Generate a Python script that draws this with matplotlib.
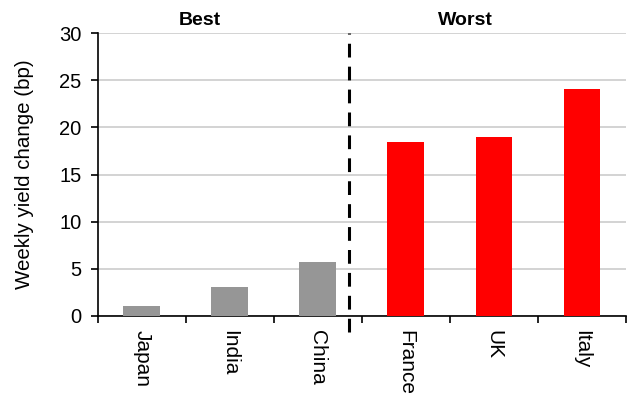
import matplotlib.pyplot as plt
import numpy as np

plt.rcParams['font.family'] = ['Liberation Sans', 'DejaVu Sans']

# weekly yield change, bp
countries = ['Japan', 'India', 'China', 'France', 'UK', 'Italy']
changes = [1.05, 3.1, 5.75, 18.5, 18.95, 24.05]
bar_colors = ['#969696'] * 3 + ['#ff0000'] * 3
group_labels = ['Best', 'Worst']

fig = plt.figure(figsize=(6.32, 3.94), dpi=100)
ax = fig.add_axes([0.155, 0.198, 0.8355, 0.718])

x = np.arange(len(countries))
ax.bar(x, changes, width=0.42, color=bar_colors, zorder=3)

ax.set_xlim(-0.5, len(countries) - 0.5)
ax.set_ylim(0, 30)
ax.set_yticks(np.arange(0, 31, 5))
ax.yaxis.grid(True, color='#cccccc', linewidth=1.2, zorder=0)
ax.set_axisbelow(True)

# category labels at centres, tick marks between categories
ax.set_xticks(x)
ax.set_xticklabels(countries, rotation=-90, fontsize=15)
ax.set_xticks(np.arange(-0.5, len(countries)), minor=True)
ax.tick_params(axis='x', which='major', length=0, pad=10)
ax.tick_params(axis='x', which='minor', length=5, width=1.2, direction='out')
ax.tick_params(axis='y', length=5, width=1.2, labelsize=14.5, pad=7)

for side in ['top', 'right']:
    ax.spines[side].set_visible(False)
for side in ['left', 'bottom']:
    ax.spines[side].set_linewidth(1.2)

ax.set_ylabel('Weekly yield change (bp)', fontsize=14.8, labelpad=18)

# divider between the two groups
ax.plot([2.35, 2.35], [-1.7, 30], color='black', linewidth=2.2,
        linestyle=(0, (4.5, 3)), clip_on=False, zorder=4)

ax.text(0.66, 30.4, group_labels[0], ha='center', va='bottom',
        fontsize=14, fontweight='bold')
ax.text(3.67, 30.4, group_labels[1], ha='center', va='bottom',
        fontsize=14, fontweight='bold')

fig.savefig('out.png', dpi=100)
